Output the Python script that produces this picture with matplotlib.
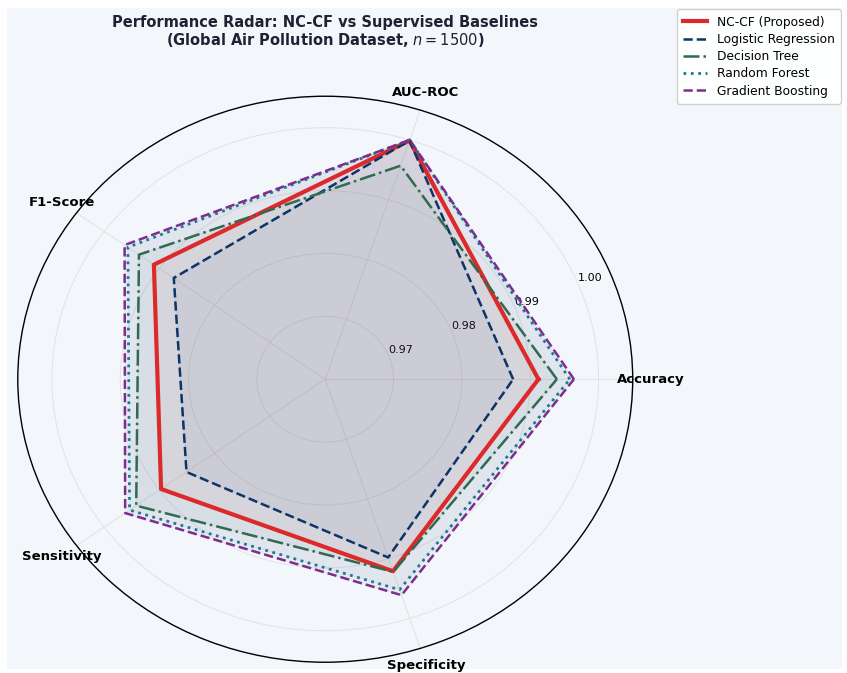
import numpy as np
import matplotlib.pyplot as plt
from matplotlib.patches import Rectangle

metrics = ['Accuracy', 'AUC-ROC', 'F1-Score', 'Sensitivity', 'Specificity']
models = ['NC-CF (Proposed)', 'Logistic Regression', 'Decision Tree',
          'Random Forest', 'Gradient Boosting']

nccf = [0.9912, 0.9999, 0.9910, 0.9897, 0.9921]
logreg = [0.9875, 0.9999, 0.9874, 0.9851, 0.9898]
dtree = [0.9939, 0.9957, 0.9937, 0.9942, 0.9922]
rforest = [0.9958, 1.0000, 0.9957, 0.9954, 0.9952]
gboost = [0.9964, 1.0000, 0.9963, 0.9962, 0.9961]

rticks = [0.97, 0.98, 0.99, 1.00]

bg = '#f3f6fa'
styles = [
    dict(color='#dc2a2a', ls='-', lw=3.0, fa=0.05),
    dict(color='#0b3566', ls='--', lw=1.8, fa=0.05),
    dict(color='#2e6b50', ls='-.', lw=1.8, fa=0.05),
    dict(color='#197a8c', ls=':', lw=2.0, fa=0.05),
    dict(color='#7b2e8e', ls='--', lw=1.8, fa=0.05),
]

fig = plt.figure(figsize=(8.47, 6.73), dpi=100, facecolor='white')
fig.patches.append(Rectangle((0.008, 0.006), 0.986, 0.982, transform=fig.transFigure,
                             facecolor=bg, edgecolor='none', zorder=-10))

ax = fig.add_axes([0.021, 0.016, 0.726, 0.841], projection='polar')
ax.set_aspect('auto')
ax.set_facecolor(bg)

angles = np.linspace(0, 2 * np.pi, len(metrics), endpoint=False)
theta = np.append(angles, angles[0])

for name, vals, st in zip(models, [nccf, logreg, dtree, rforest, gboost], styles):
    v = np.append(vals, vals[0])
    ax.plot(theta, v, color=st['color'], ls=st['ls'], lw=st['lw'], label=name, zorder=3)
    ax.fill(theta, v, color=st['color'], alpha=st['fa'], zorder=2)

ax.set_ylim(0.96, 1.005)
ax.set_yticks(rticks)
ax.set_yticklabels([f'{t:.2f}' for t in rticks], fontsize=8)
ax.set_xticks(angles)
ax.set_xticklabels(metrics, fontsize=9.5, fontweight='bold')
ax.tick_params(axis='x', pad=2.5)
ax.grid(color='#e2e2e2', lw=0.7)
ax.spines['polar'].set_color('black')
ax.spines['polar'].set_linewidth(1.0)

fig.text(325 / 847, 1 - 15 / 673,
         'Performance Radar: NC-CF vs Supervised Baselines\n'
         '(Global Air Pollution Dataset, $n = 1500$)',
         ha='center', va='top', fontsize=10.5, fontweight='bold', color='#1f2233',
         linespacing=1.1)

fig.legend(loc='upper right', bbox_to_anchor=(1.0, 0.995), fontsize=8.8,
           framealpha=0.9, handlelength=2.0, labelspacing=0.35, borderpad=0.5)

fig.savefig('out.png', dpi=100, facecolor='white')
